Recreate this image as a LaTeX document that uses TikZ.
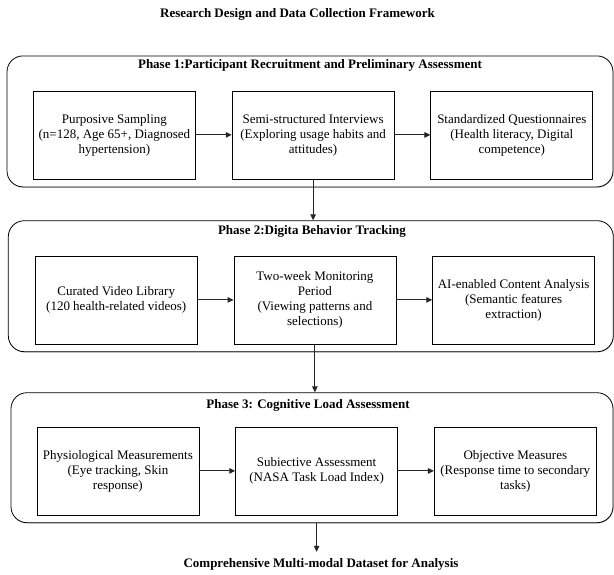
\documentclass[tikz,border=0pt]{standalone}
\usepackage{fontspec}
\setmainfont{Liberation Serif}
\usetikzlibrary{positioning,arrows.meta,shadows}

\begin{document}
\begin{tikzpicture}[x=1pt,y=-1pt,
    node distance=36pt,
    box/.style={draw, line width=0.7pt, align=center, minimum width=162pt, minimum height=88pt, inner sep=0pt, font=\fontsize{13}{15}\selectfont},
    phase/.style={draw, line width=0.8pt, rounded corners=16pt, inner sep=0pt, drop shadow={shadow xshift=0.6pt, shadow yshift=-0.8pt, opacity=0.45}, fill=white},
    head/.style={font=\fontsize{13}{15}\selectfont\bfseries, inner sep=0pt},
    flow/.style={-{Triangle[length=6pt,width=5.5pt]}, line width=1pt, black!85}]
    \useasboundingbox (0,0) rectangle (614,574);

    \node[head] (title) at (297.5,14) {Research Design and Data Collection Framework};

    \node[phase, minimum width=606pt, minimum height=131pt] (ph1) at (310,121.4) {};
    \node[phase, minimum width=605pt, minimum height=131pt] (ph2) at (310.8,286.2) {};
    \node[phase, minimum width=602pt, minimum height=130pt] (ph3) at (312,457.7) {};

    \node[head] (ph1head) at (310,65) {Phase 1:Participant Recruitment and Preliminary Assessment};
    \node[head] (ph2head) at (312,231) {Phase 2:Digita Behavior Tracking};
    \node[head] (ph3head) at (308,405) {Phase 3: Cognitive Load Assessment};

    \node[box] (b11) at (114.4,134.9) {Purposive Sampling\\(n=128, Age 65+, Diagnosed\\hypertension)};
    \node[box, right=of b11] (b12) {Semi-structured Interviews\\(Exploring usage habits and\\attitudes)};
    \node[box, right=of b12] (b13) {Standardized Questionnaires\\(Health literacy, Digital\\competence)};

    \node[box] (b21) at (116.2,299.9) {Curated Video Library\\(120 health-related videos)};
    \node[box, right=of b21] (b22) {Two-week Monitoring\\Period\\(Viewing patterns and\\selections)};
    \node[box, right=of b22] (b23) {AI-enabled Content Analysis\\(Semantic features\\extraction)};

    \node[box] (b31) at (117.9,470.9) {Physiological Measurements\\(Eye tracking, Skin\\response)};
    \node[box, right=of b31] (b32) {Subiective Assessment\\(NASA Task Load Index)};
    \node[box, right=of b32] (b33) {Objective Measures\\(Response time to secondary\\tasks)};

    \node[head, inner ysep=6pt] (final) at (321,564) {Comprehensive Multi-modal Dataset for Analysis};

    \draw[flow] (b11) -- (b12);
    \draw[flow] (b12) -- (b13);
    \draw[flow] (b21) -- (b22);
    \draw[flow] (b22) -- (b23);
    \draw[flow] (b31) -- (b32);
    \draw[flow] (b32) -- (b33);

    \draw[flow] (b12.south) -- (b12 |- ph2.north);
    \draw[flow] (b22.south) -- (b22 |- ph3.north);
    \draw[flow] (b32 |- ph3.south) -- (b32 |- final.north);
\end{tikzpicture}
\end{document}
